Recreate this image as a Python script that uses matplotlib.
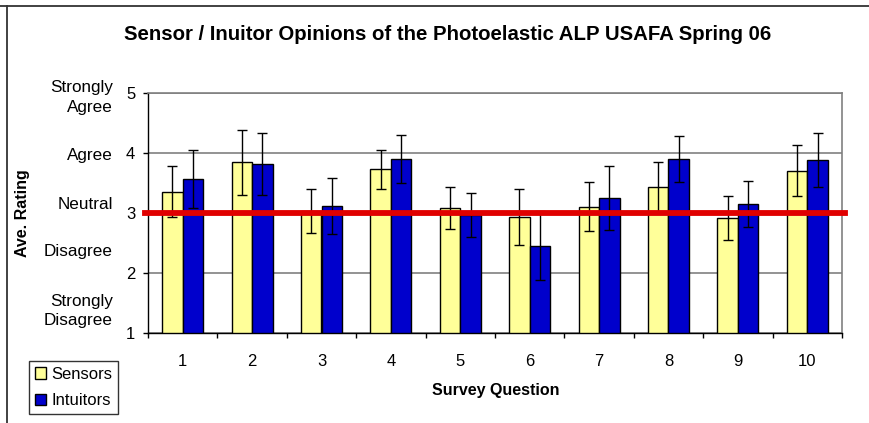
import numpy as np
import matplotlib
matplotlib.use("Agg")
import matplotlib.pyplot as plt
from matplotlib.lines import Line2D
from matplotlib.patches import Patch

plt.rcParams["font.family"] = ["Liberation Sans", "DejaVu Sans"]

# 数据
questions = [1, 2, 3, 4, 5, 6, 7, 8, 9, 10]
sensors = [3.35, 3.84, 3.03, 3.72, 3.07, 2.93, 3.10, 3.42, 2.91, 3.70]
sensors_err = [0.42, 0.54, 0.37, 0.33, 0.35, 0.47, 0.41, 0.42, 0.36, 0.43]
intuitors = [3.56, 3.81, 3.11, 3.89, 2.96, 2.45, 3.24, 3.89, 3.14, 3.87]
intuitors_err = [0.49, 0.52, 0.46, 0.40, 0.36, 0.57, 0.53, 0.38, 0.38, 0.45]
neutral = 3
rating_ticks = [1, 2, 3, 4, 5]
rating_names = ["Strongly\nAgree", "Agree", "Neutral", "Disagree", "Strongly\nDisagree"]
rating_name_pos = [4.92, 3.96, 3.13, 2.35, 1.36]

W, H = 870, 423
fig = plt.figure(figsize=(W / 100, H / 100), dpi=100)
ax = fig.add_axes([148 / W, 1 - 332.7 / H, 694 / W, 240 / H])

x = np.array(questions)
w = 0.295
ax.bar(x - w / 2, sensors, w, bottom=0, color="#FFFF99", edgecolor="black", linewidth=1.0, zorder=2, label="Sensors")
ax.bar(x + w / 2, intuitors, w, bottom=0, color="#0000CC", edgecolor="black", linewidth=1.0, zorder=2, label="Intuitors")
ax.errorbar(x - w / 2, sensors, yerr=sensors_err, fmt="none", ecolor="black", elinewidth=1.0,
            capsize=3.6, capthick=1.0, zorder=3)
ax.errorbar(x + w / 2, intuitors, yerr=intuitors_err, fmt="none", ecolor="black", elinewidth=1.0,
            capsize=3.6, capthick=1.0, zorder=3)

# 中立参考线
ax.axhline(neutral, xmin=-0.005, xmax=1.004, color="#E00000", linewidth=4.2, zorder=4, clip_on=False)

ax.set_xlim(0.5, 10.5)
ax.set_ylim(1, 5)
ax.set_yticks(rating_ticks)
ax.set_xticks(questions)
ax.set_xticks(np.arange(0.5, 11, 1), minor=True)
ax.tick_params(axis="x", which="major", length=0, pad=15.5, labelsize=12)
ax.tick_params(axis="x", which="minor", length=3.6, width=1.0, direction="out")
ax.tick_params(axis="y", length=3.6, width=1.0, direction="out", pad=5.5, labelsize=12)

ax.yaxis.grid(True, color="#808080", linewidth=1.2, zorder=0.5)
ax.set_axisbelow(True)
for s in ["top", "right"]:
    ax.spines[s].set_color("#808080")
    ax.spines[s].set_linewidth(1.2)
for s in ["left", "bottom"]:
    ax.spines[s].set_color("black")
    ax.spines[s].set_linewidth(1.0)

trans = ax.get_yaxis_transform()
for name, pos in zip(rating_names, rating_name_pos):
    ax.text(-0.0504, pos, name, transform=trans, ha="right", va="center", fontsize=12.3,
            linespacing=1.35)

fig.text(0.514, 1 - 34 / H, "Sensor / Inuitor Opinions of the Photoelastic ALP USAFA Spring 06",
         ha="center", va="center", fontsize=14.7, fontweight="bold")
fig.text(23 / W, 1 - 212.7 / H, "Ave. Rating", rotation=90, ha="center", va="center",
         fontsize=11.5, fontweight="bold")
fig.text(496 / W, 1 - 390 / H, "Survey Question", ha="center", va="center",
         fontsize=11.5, fontweight="bold")

handles = [Patch(facecolor="#FFFF99", edgecolor="black", linewidth=1.0),
           Patch(facecolor="#0000CC", edgecolor="black", linewidth=1.0)]
leg = fig.legend(handles, ["Sensors", "Intuitors"], loc="upper left",
                 bbox_to_anchor=(29 / W, 1 - 361 / H), bbox_transform=fig.transFigure,
                 borderaxespad=0, fontsize=12, frameon=True, fancybox=False,
                 handlelength=0.65, handleheight=0.65, handletextpad=0.35,
                 labelspacing=0.68, borderpad=0.35)
leg.get_frame().set_edgecolor("black")
leg.get_frame().set_linewidth(1.0)

# 外框（上边和左边）
fig.add_artist(Line2D([0, 1], [1 - 6 / H, 1 - 6 / H], transform=fig.transFigure, color="#333333", linewidth=1.3))
fig.add_artist(Line2D([7 / W, 7 / W], [0, 1 - 6 / H], transform=fig.transFigure, color="#333333", linewidth=1.3))

fig.savefig("out.png", dpi=100)
